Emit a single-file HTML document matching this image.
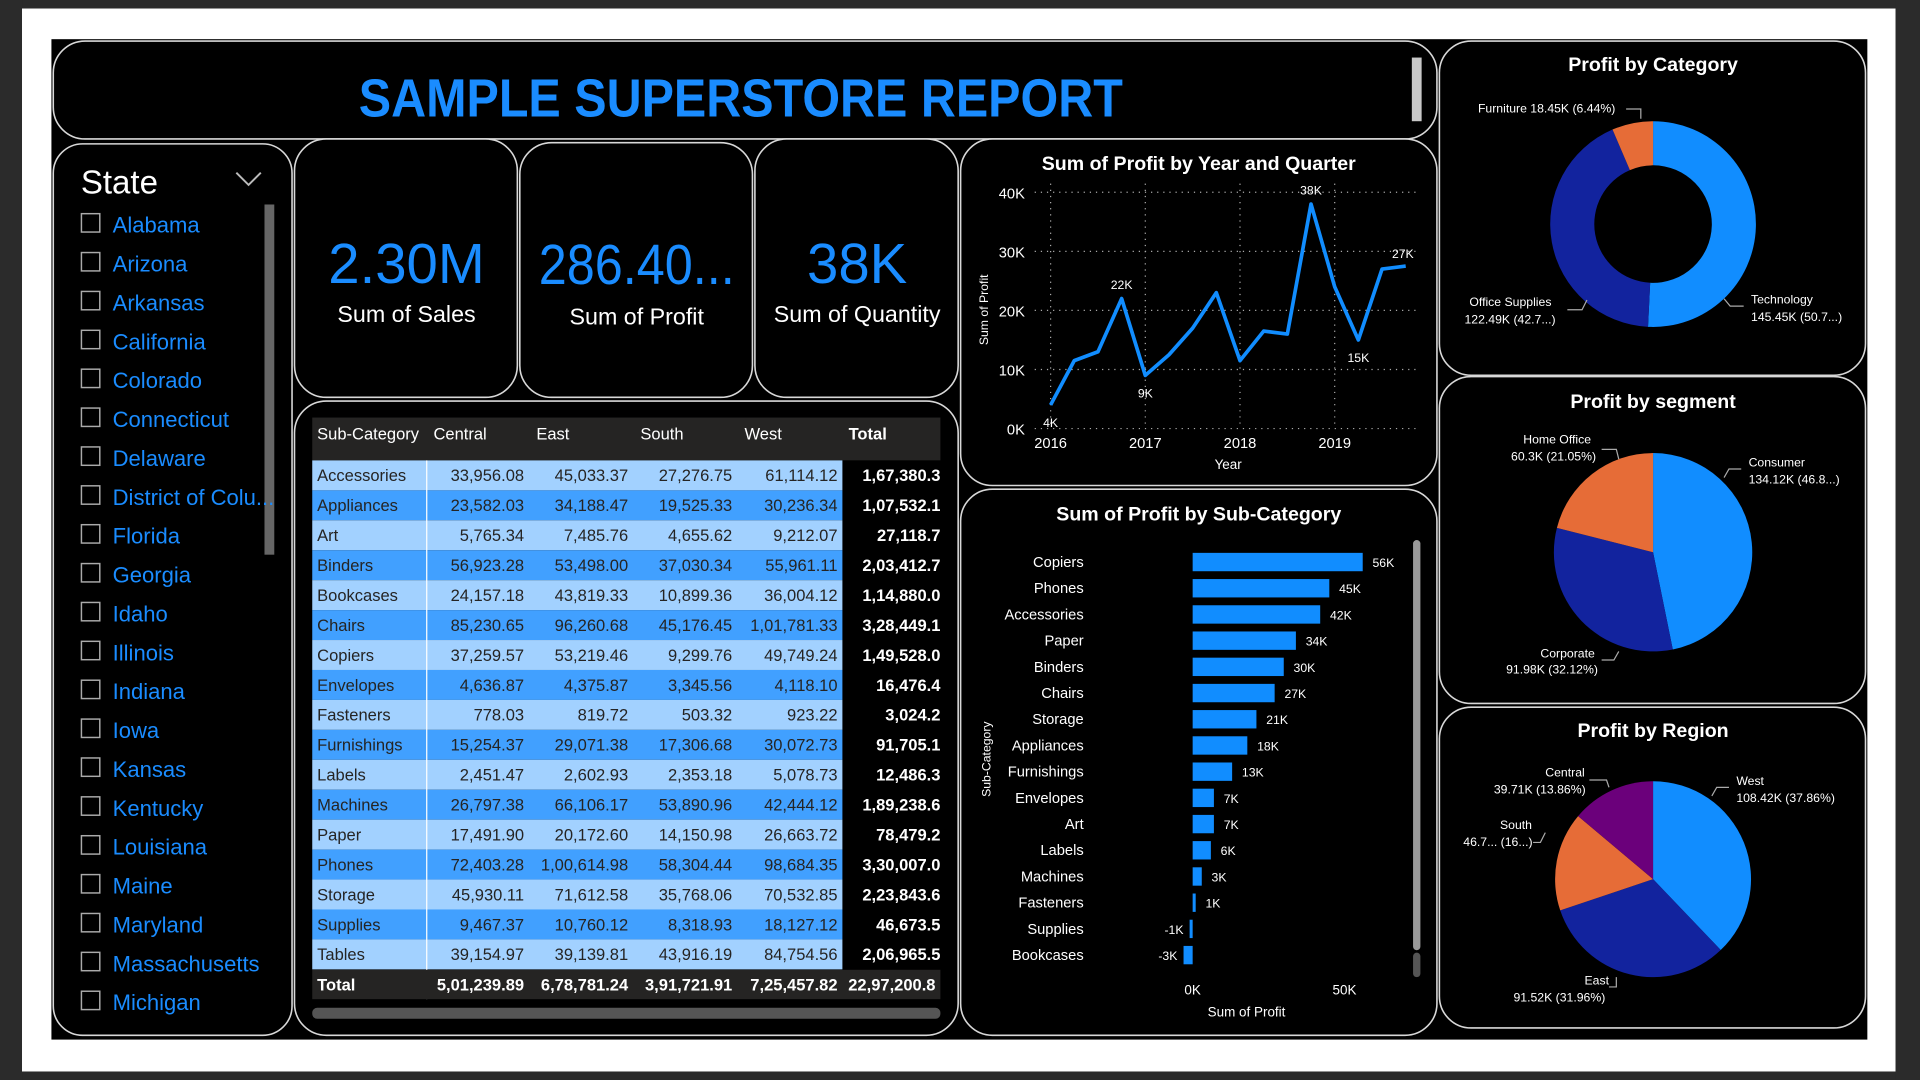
<!DOCTYPE html>
<html><head><meta charset="utf-8"><style>
html,body{margin:0;padding:0;width:1920px;height:1080px;overflow:hidden;background:#fff}
#stage{position:absolute;left:0;top:0;width:1568px;height:882px;transform:scale(1.22449);transform-origin:0 0}
svg{font-family:"Liberation Sans",sans-serif}
</style></head><body>
<div id="stage">
<svg id="svg" width="1568" height="882" viewBox="0 0 1568 882" xmlns="http://www.w3.org/2000/svg">
<rect x="0" y="0" width="1568" height="7" fill="#2b2b2b"/>
<rect x="0" y="875" width="1568" height="7" fill="#2b2b2b"/>
<rect x="0" y="0" width="18" height="882" fill="#2b2b2b"/>
<rect x="1548" y="0" width="20" height="882" fill="#2b2b2b"/>
<rect x="18" y="7" width="1530" height="868" fill="#ffffff"/>
<rect x="42" y="32" width="1483" height="817" fill="#000"/>
<g fill="#000" stroke="#d8d8d8" stroke-width="1.3">
<rect x="43.5" y="33.5" width="1130" height="80" rx="26"/>
<rect x="43.5" y="117.5" width="195" height="728" rx="24"/>
<rect x="240.5" y="113.5" width="182" height="211" rx="26"/>
<rect x="424.5" y="116.5" width="190" height="208" rx="26"/>
<rect x="616.5" y="113.5" width="166" height="211" rx="26"/>
<rect x="240.5" y="327.5" width="542" height="518" rx="26"/>
<rect x="784.5" y="113.5" width="389" height="283" rx="26"/>
<rect x="784.5" y="399.5" width="389" height="446" rx="26"/>
<rect x="1175.5" y="33.5" width="348" height="273" rx="26"/>
<rect x="1175.5" y="307.5" width="348" height="267" rx="26"/>
<rect x="1175.5" y="577.5" width="348" height="262" rx="26"/>
</g>
<text x="605" y="95" text-anchor="middle" font-size="44" font-weight="bold" fill="#1a8cff" textLength="624" lengthAdjust="spacingAndGlyphs">SAMPLE SUPERSTORE REPORT</text>
<rect x="1153" y="47" width="8" height="52" fill="#c8c8c8"/>
<!-- KPI -->
<text x="332" y="231" text-anchor="middle" font-size="46" fill="#1a8cff">2.30M</text>
<text x="332" y="263" text-anchor="middle" font-size="19" fill="#fff">Sum of Sales</text>
<text x="520" y="232" text-anchor="middle" font-size="46" fill="#1a8cff" textLength="160" lengthAdjust="spacingAndGlyphs">286.40...</text>
<text x="520" y="265" text-anchor="middle" font-size="19" fill="#fff">Sum of Profit</text>
<text x="700" y="231" text-anchor="middle" font-size="46" fill="#1a8cff">38K</text>
<text x="700" y="263" text-anchor="middle" font-size="19" fill="#fff">Sum of Quantity</text>
<!-- slicer -->
<text x="66" y="158" font-size="27" fill="#fff">State</text>
<path d="M193 141 L203 151 L213 141" stroke="#bbb" stroke-width="1.6" fill="none"/>
<rect x="216" y="167" width="8" height="286" fill="#666"/>
<g id="slicer"></g>
<g id="table"></g>
<g id="line"></g>
<g id="bars"></g>
<g id="pies"></g>
</svg>
</div>
<script>
const NS="http://www.w3.org/2000/svg";
function mk(tag,attrs,parent,txt){const e=document.createElementNS(NS,tag);for(const k in attrs)e.setAttribute(k,attrs[k]);if(txt!==undefined)e.textContent=txt;parent.appendChild(e);return e;}

// ---------- slicer ----------
const states=["Alabama","Arizona","Arkansas","California","Colorado","Connecticut","Delaware","District of Colu...","Florida","Georgia","Idaho","Illinois","Indiana","Iowa","Kansas","Kentucky","Louisiana","Maine","Maryland","Massachusetts","Michigan"];
const sl=document.getElementById('slicer');
states.forEach((s,i)=>{const y=184+i*31.75;
 const b=mk('rect',{x:66.5,y:y-9.5,width:15,height:15,fill:'none',stroke:'#aaa','stroke-width':1.2},sl);
 
 
 const t=mk('text',{x:92,y:y+6,'font-size':18,fill:'#1a8cff'},sl,s);
 
 
});

// ---------- table ----------
const subCats=["Accessories","Appliances","Art","Binders","Bookcases","Chairs","Copiers","Envelopes","Fasteners","Furnishings","Labels","Machines","Paper","Phones","Storage","Supplies","Tables"];
const central=["33,956.08","23,582.03","5,765.34","56,923.28","24,157.18","85,230.65","37,259.57","4,636.87","778.03","15,254.37","2,451.47","26,797.38","17,491.90","72,403.28","45,930.11","9,467.37","39,154.97"];
const east=["45,033.37","34,188.47","7,485.76","53,498.00","43,819.33","96,260.68","53,219.46","4,375.87","819.72","29,071.38","2,602.93","66,106.17","20,172.60","1,00,614.98","71,612.58","10,760.12","39,139.81"];
const south=["27,276.75","19,525.33","4,655.62","37,030.34","10,899.36","45,176.45","9,299.76","3,345.56","503.32","17,306.68","2,353.18","53,890.96","14,150.98","58,304.44","35,768.06","8,318.93","43,916.19"];
const west=["61,114.12","30,236.34","9,212.07","55,961.11","36,004.12","1,01,781.33","49,749.24","4,118.10","923.22","30,072.73","5,078.73","42,444.12","26,663.72","98,684.35","70,532.85","18,127.12","84,754.56"];
const totals=["1,67,380.3","1,07,532.1","27,118.7","2,03,412.7","1,14,880.0","3,28,449.1","1,49,528.0","16,476.4","3,024.2","91,705.1","12,486.3","1,89,238.6","78,479.2","3,30,007.0","2,23,843.6","46,673.5","2,06,965.5"];
const totalRow=["Total","5,01,239.89","6,78,781.24","3,91,721.91","7,25,457.82","22,97,200.8"];
const headers=["Sub-Category","Central","East","South","West","Total"];
const tb=document.getElementById('table');
const colL=[255,348,432,517,602,688,768];
mk('rect',{x:255,y:341,width:513,height:35,fill:'#252423'},tb);
headers.forEach((h,j)=>{const t=mk('text',{x:colL[j]+(j==0?4:j==5?5:6),y:359,'font-size':13.5,fill:'#fff','font-weight':j==5?'bold':'normal'},tb,h);
 
 });
subCats.forEach((s,i)=>{const y=376+i*24.45;
 const r=mk('rect',{x:255,y:y,width:433,height:24.45,fill:i%2==0?'#a2d1ff':'#41a0ff'},tb);
 
 
 mk('rect',{x:688,y:y,width:80,height:24.45,fill:'#000'},tb);
 const vals=[central[i],east[i],south[i],west[i]];
 const t0=mk('text',{x:259,y:y+17,'font-size':13.5,fill:'#252423'},tb,s);
 
 vals.forEach((v,j)=>{const t=mk('text',{x:colL[j+2]-4,y:y+17,'font-size':13.5,fill:'#252423','text-anchor':'end'},tb,v);
  });
 const tt=mk('text',{x:768,y:y+17,'font-size':13.5,fill:'#fff','font-weight':'bold','text-anchor':'end'},tb,totals[i]);
 
});
mk('line',{x1:348.5,y1:376,x2:348.5,y2:816,stroke:'#fff','stroke-width':1},tb);
mk('rect',{x:255,y:792,width:513,height:24,fill:'#252423'},tb);
totalRow.forEach((v,j)=>{const t=mk('text',{x:j==0?259:colL[j+1]-4,y:809,'font-size':13.5,fill:'#fff','font-weight':'bold','text-anchor':j==0?'start':'end'},tb,v);
 });
mk('rect',{x:255,y:823,width:513,height:9,rx:4,fill:'#555'},tb);

// ---------- line chart ----------
const quarters=["2016Q1","2016Q2","2016Q3","2016Q4","2017Q1","2017Q2","2017Q3","2017Q4","2018Q1","2018Q2","2018Q3","2018Q4","2019Q1","2019Q2","2019Q3","2019Q4"];
const profitQ=[4,11.5,13,22,9,12.5,17,23,11.5,16.5,16,38,24,15,27,27.5];
const qLabels=["4K","","","22K","9K","","","","","","","38K","","15K","27K",""];
const yTicks=[0,10,20,30,40];
const yearTicks=["2016","2017","2018","2019"];
const ln=document.getElementById('line');
const lx=i=>858+i*(290/15);
const ly=v=>350-v*4.825;
mk('text',{x:979,y:139,'font-size':16,'font-weight':'bold',fill:'#fff','text-anchor':'middle'},ln,'Sum of Profit by Year and Quarter');
yTicks.forEach(v=>{mk('line',{x1:845,x2:1158,y1:ly(v),y2:ly(v),stroke:'#aaa','stroke-dasharray':'1 4'},ln);
 const t=mk('text',{x:837,y:ly(v)+5,'font-size':12,fill:'#fff','text-anchor':'end'},ln,v+'K');
 });
yearTicks.forEach((y,i)=>{const x=lx(i*4);
 mk('line',{x1:x,x2:x,y1:150,y2:350,stroke:'#aaa','stroke-dasharray':'1 4'},ln);
 const t=mk('text',{x:x,y:366,'font-size':12,fill:'#fff','text-anchor':'middle'},ln,y);
 });
mk('text',{x:1003,y:383,'font-size':11,fill:'#fff','text-anchor':'middle'},ln,'Year');
mk('text',{x:0,y:0,'font-size':10,fill:'#fff','text-anchor':'middle',transform:'translate(807,253) rotate(-90)'},ln,'Sum of Profit');
const pl=mk('polyline',{points:profitQ.map((v,i)=>lx(i)+','+ly(v)).join(' '),fill:'none',stroke:'#118dff','stroke-width':3,'stroke-linejoin':'round'},ln);


qLabels.forEach((l,i)=>{if(!l)return;const below=(i==0||i==4||i==13);
 const t=mk('text',{x:lx(i)+(i==14?16:i==0?0:0),y:below?ly(profitQ[i])+18:ly(profitQ[i])-8,'font-size':10,fill:'#fff','text-anchor':'middle'},ln,l);
 if(i==14){t.setAttribute('x',lx(i)+17);t.setAttribute('y',ly(profitQ[i])-9);}
 });

// ---------- bar chart ----------
const barCats=["Copiers","Phones","Accessories","Paper","Binders","Chairs","Storage","Appliances","Furnishings","Envelopes","Art","Labels","Machines","Fasteners","Supplies","Bookcases"];
const barVals=[56,45,42,34,30,27,21,18,13,7,7,6,3,1,-1,-3];
const barTicks=[0,50];
const br=document.getElementById('bars');
const bx=v=>974+v*2.48;
const by=i=>459+i*21.4;
mk('text',{x:979,y:425,'font-size':16,'font-weight':'bold',fill:'#fff','text-anchor':'middle'},br,'Sum of Profit by Sub-Category');
barCats.forEach((c,i)=>{const v=barVals[i];
 const t=mk('text',{x:885,y:by(i)+4,'font-size':12,fill:'#fff','text-anchor':'end'},br,c);
 
 const x0=Math.min(bx(0),bx(v)),w=Math.max(Math.abs(bx(v)-bx(0)),2);
 const r=mk('rect',{x:x0,y:by(i)-7.5,width:w,height:15,fill:'#118dff'},br);
 
 
 const l=mk('text',{x:v>=0?bx(v)+8:bx(v)-5,y:by(i)+4,'font-size':10,fill:'#fff','text-anchor':v>=0?'start':'end'},br,v+'K');
 });
barTicks.forEach(v=>{const t=mk('text',{x:bx(v),y:812,'font-size':11,fill:'#fff','text-anchor':'middle'},br,v+'K');});
mk('text',{x:1018,y:830,'font-size':11,fill:'#fff','text-anchor':'middle'},br,'Sum of Profit');
mk('text',{x:0,y:0,'font-size':10,fill:'#fff','text-anchor':'middle',transform:'translate(809,620) rotate(-90)'},br,'Sub-Category');
mk('rect',{x:1154,y:441,width:6,height:335,rx:3,fill:'#999'},br);
mk('rect',{x:1154,y:778,width:6,height:20,rx:3,fill:'#555'},br);

// ---------- pies ----------
const catNames=["Technology","Office Supplies","Furniture"];
const catVals=[50.7,42.7,6.44];
const segNames=["Consumer","Corporate","Home Office"];
const segVals=[46.8,32.12,21.05];
const regNames=["West","East","South","Central"];
const regVals=[37.86,31.96,16.3,13.86];
const pieColors=["#118dff","#12239e","#e66c37","#6b007b"];
const pg=document.getElementById('pies');
function pie(cx,cy,r,ri,names,vals,title,ty,nm){
 mk('text',{x:1350,y:ty,'font-size':16,'font-weight':'bold',fill:'#fff','text-anchor':'middle'},pg,title);
 const tot=vals.reduce((a,b)=>a+b,0);let a=0;
 vals.forEach((v,i)=>{const a0=a/tot*2*Math.PI,a1=(a+v)/tot*2*Math.PI;a+=v;
  const p=(ang,rr)=>[cx+rr*Math.sin(ang),cy-rr*Math.cos(ang)];
  const [x0,y0]=p(a0,r),[x1,y1]=p(a1,r),lg=(a1-a0)>Math.PI?1:0;
  let d;
  if(ri>0){const [x2,y2]=p(a1,ri),[x3,y3]=p(a0,ri);d=`M${x0},${y0}A${r},${r} 0 ${lg} 1 ${x1},${y1}L${x2},${y2}A${ri},${ri} 0 ${lg} 0 ${x3},${y3}Z`;}
  else d=`M${cx},${cy}L${x0},${y0}A${r},${r} 0 ${lg} 1 ${x1},${y1}Z`;
  const s=mk('path',{d:d,fill:pieColors[i]},pg);
  
  });
}
pie(1350,183,84,48,catNames,catVals,'Profit by Category',58,'category-pie');
pie(1350,451,81,0,segNames,segVals,'Profit by segment',333,'segment-pie');
pie(1350,718,80,0,regNames,regVals,'Profit by Region',602,'region-pie');
const callouts=[
 [1207,92,'start','Furniture 18.45K (6.44%)',[[1328,89],[1340,89],[1340,97]]],
 [1200,250,'start','Office Supplies',[[1280,253],[1292,253],[1296,245]]],
 [1196,264,'start','122.49K (42.7...)',null],
 [1430,248,'start','Technology',[[1424,250],[1413,250],[1408,244]]],
 [1430,262,'start','145.45K (50.7...)',null],
 [1244,362,'start','Home Office',[[1308,367],[1320,367],[1322,375]]],
 [1234,376,'start','60.3K (21.05%)',null],
 [1428,381,'start','Consumer',[[1422,383],[1412,383],[1408,390]]],
 [1428,395,'start','134.12K (46.8...)',null],
 [1258,537,'start','Corporate',[[1308,539],[1318,539],[1322,532]]],
 [1230,550,'start','91.98K (32.12%)',null],
 [1262,634,'start','Central',[[1298,637],[1312,637],[1314,643]]],
 [1220,648,'start','39.71K (13.86%)',null],
 [1225,677,'start','South',null],
 [1195,691,'start','46.7... (16...)',[[1252,688],[1258,688],[1262,680]]],
 [1418,641,'start','West',[[1412,643],[1402,643],[1398,650]]],
 [1418,655,'start','108.42K (37.86%)',null],
 [1294,804,'start','East',[[1314,806],[1320,806],[1320,798]]],
 [1236,818,'start','91.52K (31.96%)',null]];
callouts.forEach(c=>{const t=mk('text',{x:c[0],y:c[1],'font-size':10,fill:'#fff','text-anchor':c[2]},pg,c[3]);
 
 if(c[4])mk('polyline',{points:c[4].map(p=>p.join(',')).join(' '),fill:'none',stroke:'#aaa','stroke-width':1},pg);});
</script>
</body></html>
